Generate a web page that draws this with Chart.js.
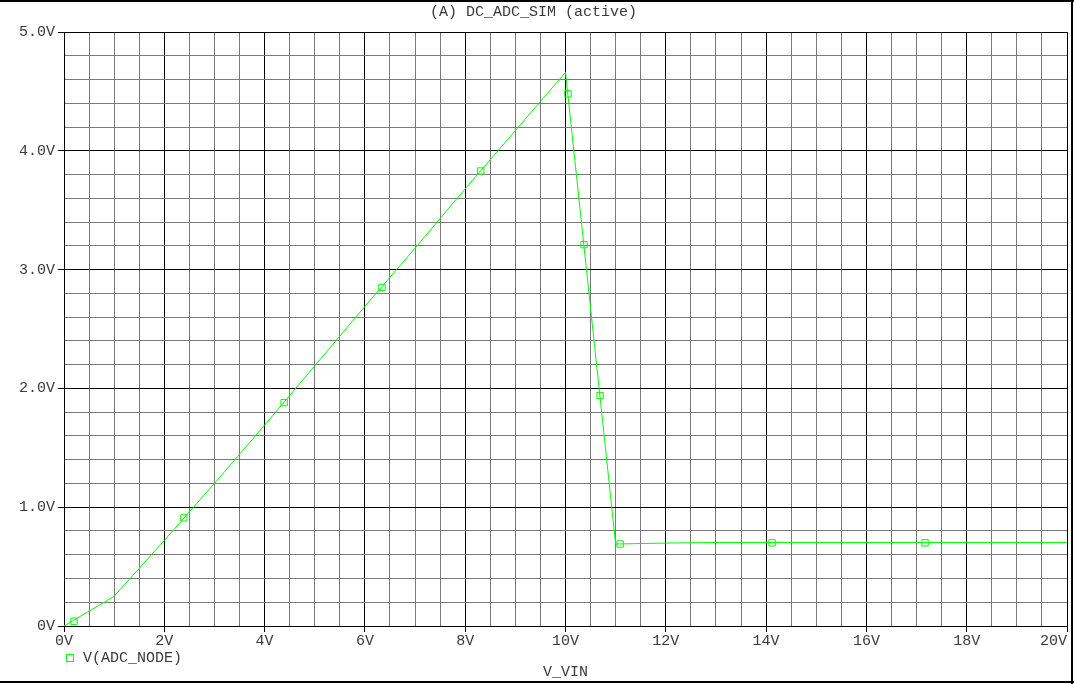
<!DOCTYPE html>
<html>
<head>
<meta charset="utf-8">
<script src="https://cdn.jsdelivr.net/npm/chart.js@4"></script>
<style>
  html, body { margin: 0; padding: 0; background: #fff; }
  #wrap { width: 1074px; height: 684px; position: relative; }
</style>
</head>
<body>
<div id="wrap"><canvas id="simChart"></canvas></div>
<script>
// --- DATA ---
const vinSweep = [0, 1, 2, 3, 4, 5, 6, 7, 8, 9, 10, 11, 12, 13, 14, 15, 16, 17, 18, 19, 20];
const adcNode = [0, 0.25, 0.72, 1.20, 1.69, 2.19, 2.69, 3.18, 3.68, 4.17, 4.66,
                 0.69, 0.698, 0.703, 0.703, 0.703, 0.703, 0.703, 0.703, 0.703, 0.703];
const markerVin = [0.2, 2.39, 4.39, 6.34, 8.31, 10.05, 10.37, 10.69, 11.09, 14.12, 17.17];
const markerAdc = [0.04, 0.91, 1.88, 2.85, 3.83, 4.48, 3.21, 1.94, 0.69, 0.70, 0.70];
const xMajorTicks = [0, 2, 4, 6, 8, 10, 12, 14, 16, 18, 20];
const yMajorTicks = [0, 1, 2, 3, 4, 5];

const TRACE = '#00ff00';
const TEXT = '#3a3a3a';
const MONO = '"Liberation Mono", "DejaVu Sans Mono", monospace';

const isMajor = (v, list) => list.some(m => Math.abs(m - v) < 1e-6);

// Frame round the window plus the trace legend, PSpice style
const probeFrame = {
    id: 'probeFrame',
    afterDraw(chart) {
        const c = chart.ctx;
        c.save();
        c.strokeStyle = '#000';
        c.lineWidth = 2;
        c.beginPath();
        c.moveTo(0, 1); c.lineTo(1074, 1);
        c.moveTo(0, 682); c.lineTo(1074, 682);
        c.moveTo(1072, 0); c.lineTo(1072, 684);
        c.stroke();

        c.strokeStyle = TRACE;
        c.lineWidth = 1;
        c.strokeRect(66.5, 654.5, 7, 7);
        c.fillStyle = TEXT;
        c.font = '15px ' + MONO;
        c.textBaseline = 'middle';
        c.textAlign = 'left';
        c.fillText('V(ADC_NODE)', 83, 658);
        c.restore();
    }
};

const ctx = document.getElementById('simChart').getContext('2d');
const simChart = new Chart(ctx, {
    type: 'scatter',
    data: {
        datasets: [{
            label: 'V(ADC_NODE)',
            data: vinSweep.map((x, i) => ({ x: x, y: adcNode[i] })),
            showLine: true,
            borderColor: TRACE,
            borderWidth: 1,
            pointRadius: 0,
            tension: 0
        }, {
            label: 'markers',
            data: markerVin.map((x, i) => ({ x: x, y: markerAdc[i] })),
            showLine: false,
            pointStyle: 'rect',
            pointRadius: 4.5,
            borderColor: TRACE,
            borderWidth: 1,
            backgroundColor: 'rgba(0,0,0,0)'
        }]
    },
    options: {
        responsive: true,
        maintainAspectRatio: false,
        animation: false,
        layout: { padding: { left: 0, right: 7, top: 0, bottom: 0 } },
        plugins: {
            legend: { display: false },
            tooltip: { enabled: false },
            title: {
                display: true,
                text: '(A) DC_ADC_SIM (active)',
                color: TEXT,
                font: { family: MONO, size: 15, weight: 'normal', lineHeight: 1.2 },
                padding: { top: 3, bottom: 11 }
            }
        },
        scales: {
            x: {
                type: 'linear',
                min: 0,
                max: 20,
                ticks: {
                    stepSize: 0.5,
                    autoSkip: false,
                    maxRotation: 0,
                    padding: 0,
                    color: TEXT,
                    font: { family: MONO, size: 15 },
                    // last label sits flush with the axis end
                    callback: v => isMajor(v, xMajorTicks) ? (v === 20 ? '20V   ' : v + 'V') : ''
                },
                grid: {
                    color: c => isMajor(c.tick.value, xMajorTicks) ? '#000' : '#7a7a7a',
                    tickColor: c => isMajor(c.tick.value, xMajorTicks) ? '#000' : 'rgba(0,0,0,0)',
                    tickLength: 6,
                    lineWidth: 1
                },
                border: { color: '#000', width: 1 },
                title: {
                    display: true,
                    text: 'V_VIN',
                    color: TEXT,
                    font: { family: MONO, size: 15 },
                    padding: { top: 3, bottom: 3 }
                },
                afterFit: scale => {
                    scale.height = 58;
                    scale.paddingLeft = 0;
                    scale.paddingRight = 0;
                }
            },
            y: {
                type: 'linear',
                min: 0,
                max: 5,
                ticks: {
                    stepSize: 0.2,
                    autoSkip: false,
                    padding: 3,
                    color: TEXT,
                    font: { family: MONO, size: 15 },
                    callback: v => isMajor(v, yMajorTicks) ? (Math.round(v) === 0 ? '0V' : Math.round(v) + '.0V') : ''
                },
                grid: {
                    color: c => isMajor(c.tick.value, yMajorTicks) ? '#000' : '#7a7a7a',
                    tickColor: c => isMajor(c.tick.value, yMajorTicks) ? '#000' : 'rgba(0,0,0,0)',
                    tickLength: 6,
                    lineWidth: 1
                },
                border: { color: '#000', width: 1 },
                afterFit: scale => { scale.width = 64; }
            }
        }
    },
    plugins: [probeFrame]
});
</script>
</body>
</html>
